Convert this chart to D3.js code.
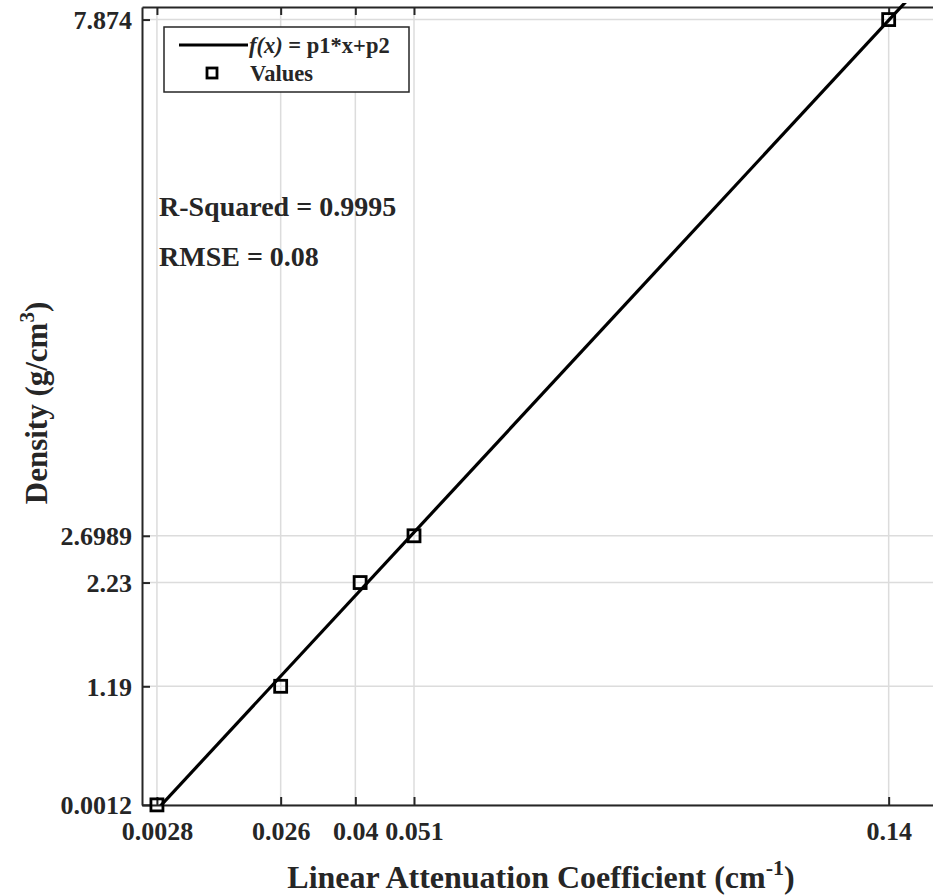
<!DOCTYPE html>
<html>
<head>
<meta charset="utf-8">
<script src="https://cdn.jsdelivr.net/npm/d3@7"></script>
<style>
  body { margin: 0; background: #fff; }
  text { font-family: "Liberation Serif", "Times New Roman", serif; font-weight: bold; fill: #262626; }
</style>
</head>
<body>
<div id="chart"></div>
<script>
'use strict';

// measured points
var attenuation = [0.0028, 0.026, 0.0409, 0.051, 0.14];
var density = [0.0012, 1.19, 2.23, 2.6989, 7.874];

// tick labels
var xTicks = [0.0028, 0.026, 0.04, 0.051, 0.14];
var xTickLabels = ['0.0028', '0.026', '0.04', '0.051', '0.14'];
var yTicks = [0.0012, 1.19, 2.23, 2.6989, 7.874];
var yTickLabels = ['0.0012', '1.19', '2.23', '2.6989', '7.874'];

// fit f(x) = p1*x + p2
var p1 = 57.685, p2 = -0.2089;
var fitX = [0, 0.15];

var width = 933, height = 896;
var margin = {top: 7, right: -1, bottom: 91, left: 142};
var plotW = width - margin.left - margin.right,
    plotH = height - margin.top - margin.bottom;

var x = d3.scaleLinear().domain([0, 0.1485]).range([0, plotW]);
var y = d3.scaleLinear().domain([0, 8]).range([plotH, 0]);

var svg = d3.select('#chart')
  .append('svg')
    .attr('width', width)
    .attr('height', height);

var g = svg.append('g')
  .attr('transform', 'translate(' + margin.left + ',' + margin.top + ')');

g.append('clipPath').attr('id', 'clip')
  .append('rect')
    .attr('x', 0).attr('y', -4)
    .attr('width', plotW).attr('height', plotH + 4);

// grid
g.selectAll('.gx').data(xTicks).enter().append('line')
  .attr('x1', function(d) { return x(d); })
  .attr('x2', function(d) { return x(d); })
  .attr('y1', 0).attr('y2', plotH)
  .style('stroke', '#dcdcdc').style('stroke-width', 1.5);

g.selectAll('.gy').data(yTicks).enter().append('line')
  .attr('y1', function(d) { return y(d); })
  .attr('y2', function(d) { return y(d); })
  .attr('x1', 0).attr('x2', plotW)
  .style('stroke', '#dcdcdc').style('stroke-width', 1.5);

// axes with inward ticks
var xAxis = d3.axisBottom(x).tickValues(xTicks).tickSizeInner(-8).tickSizeOuter(0)
  .tickPadding(18).tickFormat(function(d, i) { return xTickLabels[i]; });
var yAxis = d3.axisLeft(y).tickValues(yTicks).tickSizeInner(-8).tickSizeOuter(0)
  .tickPadding(18).tickFormat(function(d, i) { return yTickLabels[i]; });

var xa = g.append('g').attr('transform', 'translate(0,' + plotH + ')').call(xAxis);
var ya = g.append('g').call(yAxis);
var xTop = g.append('g').call(d3.axisTop(x).tickValues(xTicks).tickSizeInner(-8).tickSizeOuter(0).tickFormat(''));

[xa, ya, xTop].forEach(function(a) {
  a.selectAll('.domain').style('stroke', '#262626').style('stroke-width', 2);
  a.selectAll('.tick line').style('stroke', '#262626').style('stroke-width', 2);
  a.selectAll('.tick text')
    .style('font-family', '"Liberation Serif", serif')
    .style('font-weight', 'bold')
    .style('font-size', '26px')
    .style('fill', '#262626');
});
xa.selectAll('.tick text').attr('dy', '0.71em').attr('y', 17);
ya.selectAll('.tick text').attr('dy', '0.35em').attr('x', -10);

// fit line
var line = d3.line()
  .x(function(d) { return x(d); })
  .y(function(d) { return y(p1 * d + p2); });

g.append('path')
  .datum(fitX)
  .attr('clip-path', 'url(#clip)')
  .attr('d', line)
  .style('fill', 'none')
  .style('stroke', '#000')
  .style('stroke-width', 3.2);

// markers
var ms = 12;
g.selectAll('.pt').data(attenuation).enter().append('rect')
  .attr('x', function(d) { return x(d) - ms / 2; })
  .attr('y', function(d, i) { return y(density[i]) - ms / 2; })
  .attr('width', ms).attr('height', ms)
  .style('fill', 'none')
  .style('stroke', '#000')
  .style('stroke-width', 2.8);

// legend
var lg = svg.append('g');
lg.append('rect')
  .attr('x', 164).attr('y', 27).attr('width', 245).attr('height', 65)
  .style('fill', '#fff').style('stroke', '#262626').style('stroke-width', 1.5);
lg.append('line')
  .attr('x1', 179).attr('x2', 248).attr('y1', 45).attr('y2', 45)
  .style('stroke', '#000').style('stroke-width', 3.2);
var t1 = lg.append('text').attr('x', 249).attr('y', 53).style('font-size', '22.5px');
t1.append('tspan').style('font-style', 'italic').text('f(x)');
t1.append('tspan').text(' = p1*x+p2');
lg.append('rect')
  .attr('x', 207).attr('y', 68).attr('width', 10).attr('height', 10)
  .style('fill', 'none').style('stroke', '#000').style('stroke-width', 2.8);
lg.append('text').attr('x', 250).attr('y', 81).style('font-size', '22.5px').text('Values');

// annotations
svg.append('text').attr('x', 159).attr('y', 216).style('font-size', '28px').text('R-Squared = 0.9995');
svg.append('text').attr('x', 159).attr('y', 266).style('font-size', '28px').text('RMSE = 0.08');

// axis titles
var xt = svg.append('text')
  .attr('x', 541)
  .attr('y', 888)
  .attr('text-anchor', 'middle')
  .style('font-size', '32px');
xt.append('tspan').text('Linear Attenuation Coefficient (cm');
xt.append('tspan').attr('dy', -13).style('font-size', '22px').text('-1');
xt.append('tspan').attr('dy', 13).text(')');

var yt = svg.append('text')
  .attr('transform', 'translate(47,' + 403 + ') rotate(-90)')
  .attr('text-anchor', 'middle')
  .style('font-size', '31px');
yt.append('tspan').text('Density (g/cm');
yt.append('tspan').attr('dy', -13).style('font-size', '21px').text('3');
yt.append('tspan').attr('dy', 13).text(')');
</script>
</body>
</html>
